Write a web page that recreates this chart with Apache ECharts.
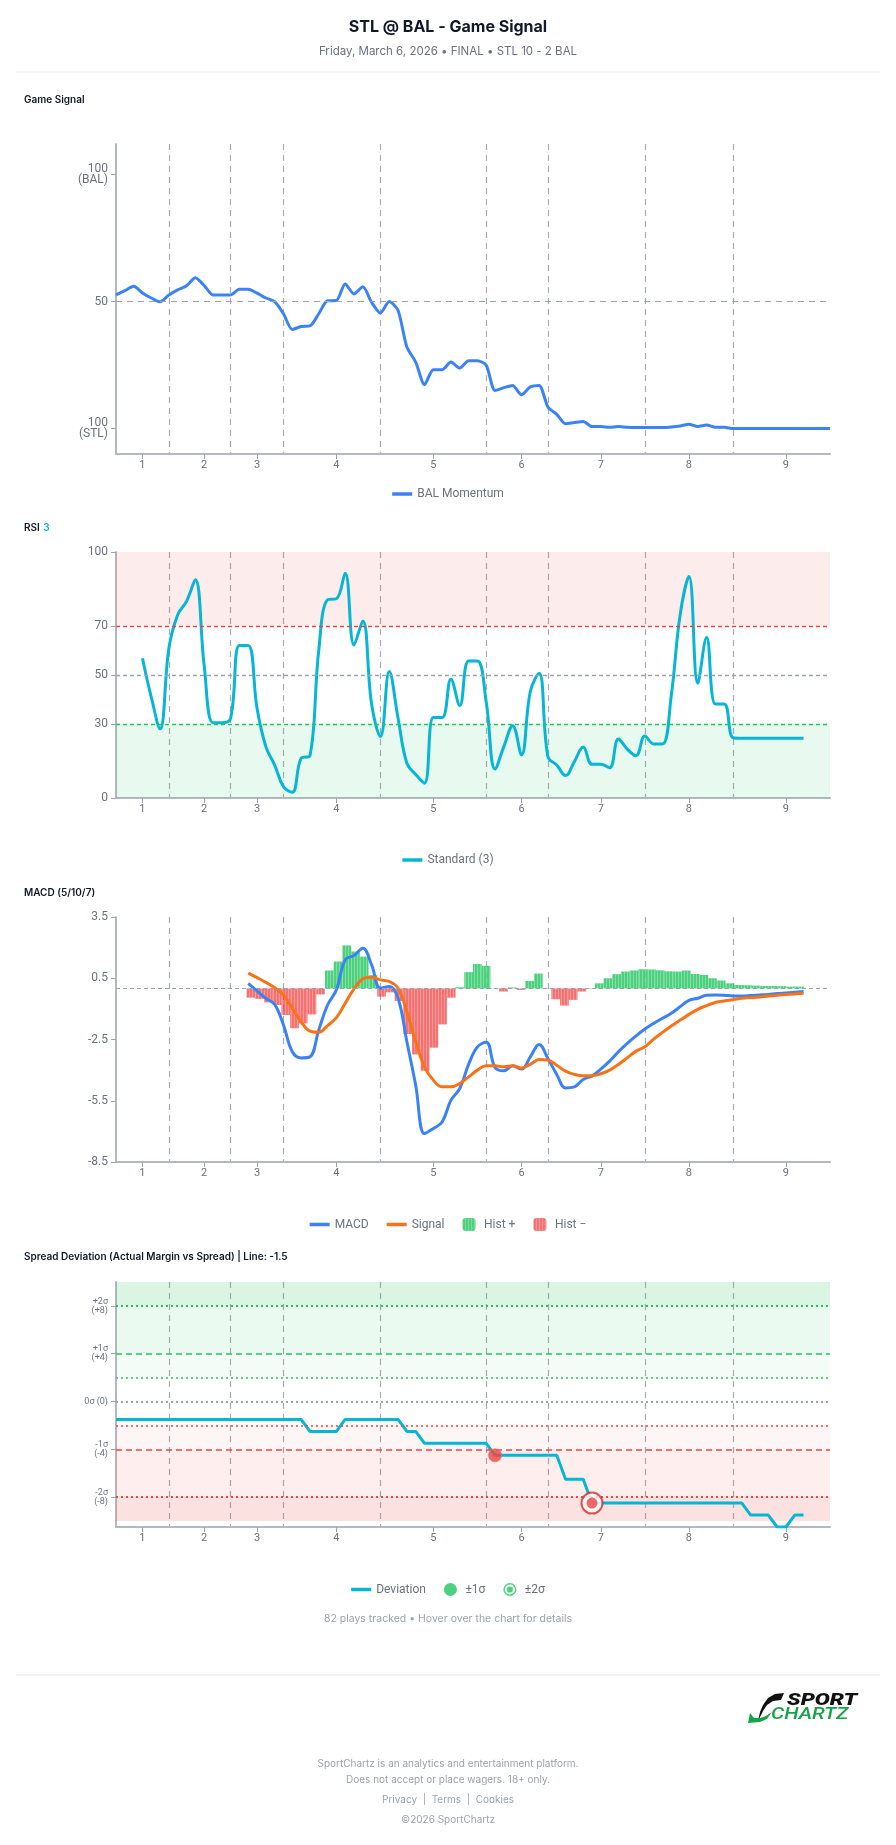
<!DOCTYPE html>
<html><head><meta charset="utf-8">
<script src="https://cdn.jsdelivr.net/npm/echarts@6/dist/echarts.min.js"></script>
<style>html,body{margin:0;padding:0;background:#fff}#c{width:896px;height:1845px}</style>
</head><body><div id="c"></div>
<script>
// ---- categories / axis tick labels ----
const plays = Array.from({length: 82}, (_, i) => String(i));
const inningLabelIdx = [3, 10, 16, 25, 36, 46, 55, 65, 76];
const inningLabels = ['1','2','3','4','5','6','7','8','9'];
const inningBreaks = [6, 13, 19, 30, 42, 49, 60, 70];

// ---- Game Signal (BAL momentum, 0 = 100 STL, 100 = 100 BAL) ----
const momentum = [52.6,54.3,56.0,53.4,51.4,49.9,52.6,54.6,56.2,59.4,
  56.3,52.6,52.6,52.6,54.8,54.8,53.3,51.4,50.0,45.2,
  39.0,40.2,40.4,45.2,50.3,50.4,56.9,53.0,55.8,49.7,
  45.5,50.0,46.5,32.1,26.2,17.3,23.2,23.2,26.2,23.8,
  26.7,26.7,24.9,15.0,16.1,17.0,13.3,16.4,17.0,8.5,
  5.6,1.9,2.4,2.8,0.8,0.8,0.5,0.8,0.5,0.4,
  0.4,0.4,0.4,0.6,1.0,1.7,0.8,1.4,0.5,0.5,
  0,0,0,0,0,0,0,0,0,0,0,0];
const momentumTicks = [0, 50, 100];

// ---- RSI (3) ----
const rsi = [null,null,null,56.8,41,28.1,60.9,74.5,79.9,88.7,
  54,30.6,30.6,32.4,62.0,62.0,36.5,20.9,13.4,4.6,
  2.3,16.1,17.2,60,80.6,81.0,91.4,62.2,72.0,38,
  25.0,51.4,32.4,14.1,9.6,6.0,32.7,32.7,48.3,37.6,
  55.7,55.7,39,11.8,20.9,29.4,17.5,43.3,50.7,16.8,
  13.4,9.1,14.8,20.7,13.7,13.7,12.3,24.0,19.9,17.2,
  25.2,22.0,22.0,41.9,74.5,90.0,46.7,65.2,38.2,38.2,
  24.5,24.3,24.3,24.3,24.3,24.3,24.3,24.3,24.3];
const rsiTicks = [0, 30, 50, 70, 100];

// ---- MACD (5/10/7), starting at play 15 ----
const macdStart = 15;
const macdLine = [0.25,-0.12,-0.48,-0.78,-1.79,-3.10,-3.40,-3.35,-2.04,-0.81,
  -0.07,1.40,1.61,1.97,1.15,0.01,0.09,-0.48,-2.61,-4.74,
  -7.11,-6.86,-6.54,-5.47,-4.90,-3.72,-2.86,-2.64,-3.87,-4.03,
  -3.79,-3.95,-3.35,-2.74,-3.43,-4.21,-4.87,-4.82,-4.46,-4.28,
  -3.95,-3.56,-3.10,-2.69,-2.32,-1.99,-1.71,-1.46,-1.22,-0.89,
  -0.58,-0.48,-0.33,-0.32,-0.33,-0.37,-0.37,-0.35,-0.32,-0.29,
  -0.25,-0.22,-0.19,-0.15];
const signalLine = [0.75,0.53,0.30,0.04,-0.32,-0.97,-1.63,-2.09,-2.15,-1.82,
  -1.43,-0.73,-0.02,0.47,0.55,0.42,0.34,0.01,-1.14,-2.61,
  -3.84,-4.49,-4.82,-4.82,-4.66,-4.33,-4.0,-3.79,-3.79,-3.84,
  -3.79,-3.89,-3.72,-3.48,-3.51,-3.76,-4.05,-4.21,-4.28,-4.28,
  -4.18,-4.00,-3.72,-3.40,-3.07,-2.86,-2.48,-2.15,-1.84,-1.55,
  -1.27,-1.02,-0.84,-0.69,-0.61,-0.55,-0.48,-0.45,-0.42,-0.37,
  -0.33,-0.30,-0.27,-0.24];
const histogram = [-0.45,-0.51,-0.68,-0.81,-1.30,-1.95,-1.71,-1.27,-0.29,0.88,
  1.32,2.11,1.81,1.56,0.65,-0.40,-0.19,-0.61,-2.23,-3.23,
  -4.03,-2.90,-1.76,-0.45,0.06,0.80,1.20,1.11,0.02,-0.15,
  0.05,-0.07,0.37,0.73,-0.02,-0.53,-0.84,-0.56,-0.15,0.02,
  0.25,0.50,0.70,0.83,0.88,0.94,0.93,0.89,0.84,0.83,
  0.88,0.71,0.66,0.50,0.39,0.25,0.17,0.16,0.14,0.12,
  0.12,0.11,0.09,0.09];

// ---- Spread deviation ----
const deviation = [-1.5,-1.5,-1.5,-1.5,-1.5,-1.5,-1.5,-1.5,-1.5,-1.5,
  -1.5,-1.5,-1.5,-1.5,-1.5,-1.5,-1.5,-1.5,-1.5,-1.5,
  -1.5,-1.5,-2.5,-2.5,-2.5,-2.5,-1.5,-1.5,-1.5,-1.5,
  -1.5,-1.5,-1.5,-2.5,-2.5,-3.5,-3.5,-3.5,-3.5,-3.5,
  -3.5,-3.5,-3.5,-4.5,-4.5,-4.5,-4.5,-4.5,-4.5,-4.5,
  -4.5,-6.5,-6.5,-6.5,-8.5,-8.5,-8.5,-8.5,-8.5,-8.5,
  -8.5,-8.5,-8.5,-8.5,-8.5,-8.5,-8.5,-8.5,-8.5,-8.5,
  -8.5,-8.5,-9.5,-9.5,-9.5,-10.5,-10.5,-9.5,-9.5];
const sigma1Hits = [[43, -4.5]];
const sigma2Hits = [[54, -8.5]];
const devTicks = [-8, -4, 0, 4, 8];
const devTickLabels = {'8':'+2σ\n(+8)','4':'+1σ\n(+4)','0':'0σ (0)','-4':'-1σ\n(-4)','-8':'-2σ\n(-8)'};

// ---- build ----
const FONT = 'Roboto, "Noto Sans", sans-serif';
const GRID_L = 116, GRID_R = 66;
const grids = [
  {left: GRID_L, right: GRID_R, top: 144, height: 310},
  {left: GRID_L, right: GRID_R, top: 552, height: 246},
  {left: GRID_L, right: GRID_R, top: 917, height: 245},
  {left: GRID_L, right: GRID_R, top: 1282, height: 245}
].map(g => Object.assign(g, {containLabel: false}));

const AX = '#b4b8c0', LBL = '#6b7280', DASH = '#a7acb4';
function xAxisFor(gi) {
  return {
    type: 'category', gridIndex: gi, data: plays, boundaryGap: false,
    axisLine: {show: true, onZero: false, lineStyle: {color: AX, width: 2}},
    axisTick: {show: true, interval: i => inningLabelIdx.includes(i), length: 5, lineStyle: {color: '#9ca3af'}},
    axisLabel: {interval: i => inningLabelIdx.includes(i), margin: 6, color: LBL, fontSize: 11, fontFamily: FONT,
      formatter: v => { const k = inningLabelIdx.indexOf(Number(v)); return k >= 0 ? inningLabels[k] : ''; }},
    splitLine: {show: true, interval: i => inningBreaks.includes(i), lineStyle: {color: DASH, type: [6, 5], width: 1.2}}
  };
}
function yBase(gi, extra) {
  return Object.assign({
    type: 'value', gridIndex: gi,
    axisLine: {show: true, lineStyle: {color: AX, width: 2}},
    splitLine: {show: false}
  }, extra);
}
const pairs = (arr, start) => arr.map((v, k) => [start + k, v]);
const hLine = (y, color, type, width) => ({yAxis: y, lineStyle: {color, type, width}});

const ringDot = 'path://M10 0A10 10 0 1 1 10 20A10 10 0 1 1 10 0ZM10 2.2A7.8 7.8 0 1 0 10 17.8A7.8 7.8 0 1 0 10 2.2ZM10 5.2A4.8 4.8 0 1 1 10 14.8A4.8 4.8 0 1 1 10 5.2Z';
const roundSq = 'path://M3 0H9A3 3 0 0 1 12 3V9A3 3 0 0 1 9 12H3A3 3 0 0 1 0 9V3A3 3 0 0 1 3 0Z';
const lineIcon = 'path://M0 0H20V3.5H0Z';

const legendBase = {left: 'center', itemWidth: 20, itemHeight: 13, itemGap: 18,
  textStyle: {color: LBL, fontSize: 12, fontFamily: FONT}, selectedMode: false};
const stripes = {symbol: 'rect', symbolSize: 1, dashArrayX: [1, 2], dashArrayY: [10, 0], color: 'rgba(255,255,255,0.35)'};

const option = {
  animation: false,
  backgroundColor: '#ffffff',
  grid: grids,
  xAxis: [xAxisFor(0), xAxisFor(1), xAxisFor(2), xAxisFor(3),
    {type: 'category', gridIndex: 2, data: plays, boundaryGap: true, show: false}],
  yAxis: [
    yBase(0, {min: -10, max: 112,
      axisTick: {show: true, customValues: momentumTicks, length: 5, lineStyle: {color: '#9ca3af'}},
      axisLabel: {customValues: momentumTicks, color: LBL, fontSize: 12, lineHeight: 11, margin: 8, fontFamily: FONT,
        formatter: v => v === 100 ? '100\n(BAL)' : (v === 0 ? '100\n(STL)' : String(v))}}),
    yBase(1, {min: 0, max: 100,
      axisTick: {show: true, customValues: rsiTicks, length: 5, lineStyle: {color: '#9ca3af'}},
      axisLabel: {customValues: rsiTicks, color: LBL, fontSize: 12, margin: 8, fontFamily: FONT}}),
    yBase(2, {min: -8.5, max: 3.5, interval: 3,
      axisTick: {show: true, length: 5, lineStyle: {color: '#9ca3af'}},
      axisLabel: {color: LBL, fontSize: 12, margin: 8, fontFamily: FONT}}),
    yBase(3, {min: -10.5, max: 10,
      axisTick: {show: true, customValues: devTicks, length: 5, lineStyle: {color: '#9ca3af'}},
      axisLabel: {customValues: devTicks, color: LBL, fontSize: 9, lineHeight: 9, margin: 8, fontFamily: FONT,
        formatter: v => devTickLabels[String(v)] || ''}})
  ],
  legend: [
    Object.assign({}, legendBase, {top: 483, data: [{name: 'BAL Momentum', icon: lineIcon}]}),
    Object.assign({}, legendBase, {top: 849, data: [{name: 'Standard (3)', icon: lineIcon}]}),
    Object.assign({}, legendBase, {top: 1213, data: [{name: 'MACD', icon: lineIcon}, {name: 'Signal', icon: lineIcon},
      {name: 'Hist +', icon: roundSq}, {name: 'Hist −', icon: roundSq}]}),
    Object.assign({}, legendBase, {top: 1578, data: [{name: 'Deviation', icon: lineIcon},
      {name: '±1σ', icon: 'circle'}, {name: '±2σ', icon: ringDot}]})
  ],
  series: [
    {name: 'BAL Momentum', type: 'line', xAxisIndex: 0, yAxisIndex: 0, data: momentum,
      smooth: 0.25, symbol: 'none', lineStyle: {color: '#3b82f6', width: 3}, itemStyle: {color: '#3b82f6'},
      markLine: {silent: true, symbol: 'none', label: {show: false}, data: [hLine(50, '#9ca3af', [6, 5], 1.2)]}},
    {name: 'Standard (3)', type: 'line', xAxisIndex: 1, yAxisIndex: 1, data: rsi,
      smooth: 0.4, symbol: 'none', lineStyle: {color: '#06b6d4', width: 3}, itemStyle: {color: '#06b6d4'},
      markArea: {silent: true, data: [
        [{yAxis: 70, itemStyle: {color: 'rgba(239,68,68,0.1)'}}, {yAxis: 100}],
        [{yAxis: 0, itemStyle: {color: 'rgba(34,197,94,0.1)'}}, {yAxis: 30}]]},
      markLine: {silent: true, symbol: 'none', label: {show: false}, data: [
        hLine(70, '#ef4444', [4, 3], 1.3), hLine(50, '#9ca3af', [4, 3], 1.3), hLine(30, '#22c55e', [4, 3], 1.3)]}},
    {name: 'Hist +', type: 'bar', xAxisIndex: 4, yAxisIndex: 2, stack: 'h', barCategoryGap: '0%',
      data: pairs(histogram, macdStart).map(p => [p[0], p[1] >= 0 ? p[1] : 0]),
      itemStyle: {color: '#22c55e', opacity: 0.8, decal: stripes}},
    {name: 'Hist −', type: 'bar', xAxisIndex: 4, yAxisIndex: 2, stack: 'h', barCategoryGap: '0%',
      data: pairs(histogram, macdStart).map(p => [p[0], p[1] < 0 ? p[1] : 0]),
      itemStyle: {color: '#ef4444', opacity: 0.75, decal: stripes}},
    {name: 'MACD', type: 'line', xAxisIndex: 2, yAxisIndex: 2, data: pairs(macdLine, macdStart),
      smooth: 0.4, symbol: 'none', z: 4, lineStyle: {color: '#3b82f6', width: 3}, itemStyle: {color: '#3b82f6'},
      markLine: {silent: true, symbol: 'none', label: {show: false}, data: [hLine(0, '#9ca3af', [4, 3], 1.2)]}},
    {name: 'Signal', type: 'line', xAxisIndex: 2, yAxisIndex: 2, data: pairs(signalLine, macdStart),
      smooth: 0.4, symbol: 'none', z: 4, lineStyle: {color: '#f97316', width: 3}, itemStyle: {color: '#f97316'}},
    {name: 'Deviation', type: 'line', xAxisIndex: 3, yAxisIndex: 3, data: deviation,
      symbol: 'none', lineStyle: {color: '#06b6d4', width: 3}, itemStyle: {color: '#06b6d4'},
      markArea: {silent: true, data: [
        [{yAxis: 8, itemStyle: {color: 'rgba(34,197,94,0.17)'}}, {yAxis: 10}],
        [{yAxis: 4, itemStyle: {color: 'rgba(34,197,94,0.09)'}}, {yAxis: 8}],
        [{yAxis: 2, itemStyle: {color: 'rgba(34,197,94,0.05)'}}, {yAxis: 4}],
        [{yAxis: -4, itemStyle: {color: 'rgba(239,68,68,0.05)'}}, {yAxis: -2}],
        [{yAxis: -8, itemStyle: {color: 'rgba(239,68,68,0.09)'}}, {yAxis: -4}],
        [{yAxis: -10, itemStyle: {color: 'rgba(239,68,68,0.16)'}}, {yAxis: -8}]]},
      markLine: {silent: true, symbol: 'none', label: {show: false}, data: [
        hLine(8, '#22c55e', [2, 3], 2), hLine(4, '#22c55e', [6, 4], 1.5), hLine(2, '#22c55e', [2, 3], 1.5),
        hLine(0, '#9ca3af', [2, 3], 2), hLine(-2, '#ef4444', [2, 3], 1.5), hLine(-4, '#ef4444', [6, 4], 1.5),
        hLine(-8, '#ef4444', [2, 3], 2)]}},
    {name: '±1σ', type: 'scatter', xAxisIndex: 3, yAxisIndex: 3, z: 6, symbolSize: 13,
      itemStyle: {color: '#22c55e'},
      data: sigma1Hits.map(p => ({value: p, itemStyle: {color: '#ef4444', borderColor: '#f87171', borderWidth: 1}}))},
    {name: '±2σ', type: 'scatter', xAxisIndex: 3, yAxisIndex: 3, z: 6, symbolSize: 21,
      itemStyle: {color: '#22c55e'},
      data: sigma2Hits.map(p => ({value: p, itemStyle: {color: '#ffffff', borderColor: '#dc2626', borderWidth: 2}}))},
    {name: 'sigma2core', type: 'scatter', xAxisIndex: 3, yAxisIndex: 3, z: 7, symbolSize: 11,
      itemStyle: {color: '#ef4444'}, data: sigma2Hits}
  ],
  graphic: [
    {type: 'text', x: 448, y: 27, style: {text: 'STL @ BAL - Game Signal', align: 'center', verticalAlign: 'middle',
      font: 'bold 16px Inter, sans-serif', fill: '#111827'}},
    {type: 'text', x: 448, y: 52, style: {text: 'Friday, March 6, 2026 • FINAL • STL 10 - 2 BAL', align: 'center', verticalAlign: 'middle',
      font: '11.5px Inter, sans-serif', fill: '#6b7280'}},
    {type: 'line', shape: {x1: 16, y1: 72, x2: 880, y2: 72}, style: {stroke: '#e5e7eb', lineWidth: 1}},
    {type: 'text', x: 24, y: 100, style: {text: 'Game Signal', verticalAlign: 'middle', font: '600 10px Inter, sans-serif', fill: '#111827'}},
    {type: 'text', x: 24, y: 528, style: {text: '{a|RSI} {b|3}', verticalAlign: 'middle',
      rich: {a: {font: '600 10px Inter, sans-serif', fill: '#111827'}, b: {font: '600 10px Inter, sans-serif', fill: '#06b6d4'}}}},
    {type: 'text', x: 24, y: 893, style: {text: 'MACD (5/10/7)', verticalAlign: 'middle', font: '600 10px Inter, sans-serif', fill: '#111827'}},
    {type: 'text', x: 24, y: 1257, style: {text: 'Spread Deviation (Actual Margin vs Spread) | Line: -1.5', verticalAlign: 'middle',
      font: '600 10px Inter, sans-serif', fill: '#111827'}},
    {type: 'text', x: 448, y: 1619, style: {text: '82 plays tracked • Hover over the chart for details', align: 'center', verticalAlign: 'middle',
      font: '10.5px Inter, sans-serif', fill: '#9ca3af'}},
    {type: 'line', shape: {x1: 16, y1: 1675, x2: 880, y2: 1675}, style: {stroke: '#e5e7eb', lineWidth: 1}},
    // logo
    {type: 'polygon', shape: {points: [[784,1693],[775,1694],[768,1698],[763,1705],[760,1712],[758,1721],[763,1711],[767,1705],[773,1701],[781,1700]]},
      style: {fill: '#111111'}},
    {type: 'polygon', shape: {points: [[748,1723],[750,1713],[754,1718],[760,1718],[766,1716],[772,1712],[767,1719],[760,1722]]},
      style: {fill: '#16a34a'}},
    {type: 'text', x: 787, y: 1701, scaleX: 1.32, originX: 0, originY: 0,
      style: {text: 'SPORT', verticalAlign: 'middle', font: 'italic 900 17px Roboto, sans-serif', fill: '#111111'}},
    {type: 'text', x: 771, y: 1715, scaleX: 1.3, originX: 0, originY: 0,
      style: {text: 'CHARTZ', verticalAlign: 'middle', font: 'italic 500 16px Roboto, sans-serif', fill: '#16a34a'}},
    // footer
    {type: 'text', x: 448, y: 1764, style: {text: 'SportChartz is an analytics and entertainment platform.', align: 'center', verticalAlign: 'middle',
      font: '10px Inter, sans-serif', fill: '#9ca3af'}},
    {type: 'text', x: 448, y: 1780, style: {text: 'Does not accept or place wagers. 18+ only.', align: 'center', verticalAlign: 'middle',
      font: '10px Inter, sans-serif', fill: '#9ca3af'}},
    {type: 'text', x: 448, y: 1800, style: {text: 'Privacy  |  Terms  |  Cookies', align: 'center', verticalAlign: 'middle',
      font: '10px Inter, sans-serif', fill: '#9ca3af'}},
    {type: 'text', x: 448, y: 1820, style: {text: '©2026 SportChartz', align: 'center', verticalAlign: 'middle',
      font: '10px Inter, sans-serif', fill: '#9ca3af'}}
  ]
};
const chart = echarts.init(document.getElementById('c'), null, {renderer: 'canvas'});
chart.setOption(option);
</script>
</body></html>
